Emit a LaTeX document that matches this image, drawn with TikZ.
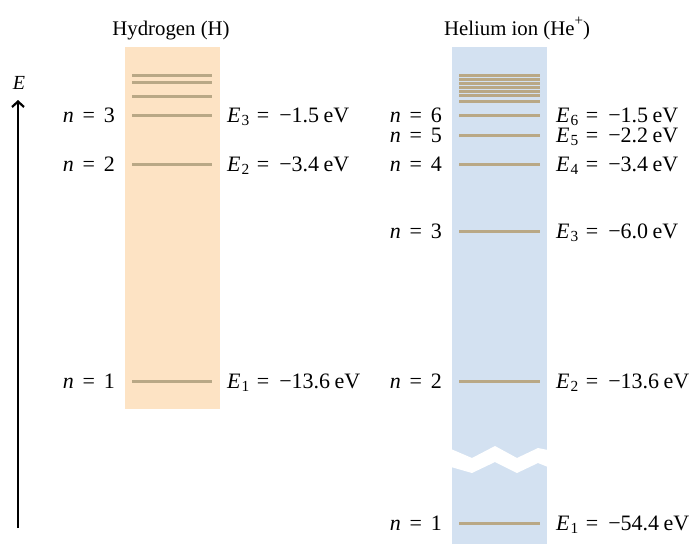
\documentclass[tikz,border=0pt]{standalone}
\usepackage{fontspec}
\setmainfont{Liberation Serif}
\usetikzlibrary{arrows.meta}
\definecolor{hbg}{HTML}{FDE3C4}
\definecolor{hebg}{HTML}{D3E1F1}
\definecolor{lvl}{HTML}{B9A886}
\newcommand{\elv}[2]{\textit{E}\kern.05em\textsubscript{#1}\hspace{.32em}=\hspace{.45em}#2\hspace{.2em}eV}
\newcommand{\nlv}[1]{\textit{n}\hspace{.4em}=\hspace{.4em}#1}
\begin{document}
\begin{tikzpicture}[x=1pt,y=-1pt,
  lev/.style={draw=lvl,line width=3pt},
  txt/.style={font=\fontsize{22}{24}\selectfont,inner sep=0pt},
  ttl/.style={font=\fontsize{20.8}{23}\selectfont,inner sep=0pt,anchor=base},
  nlab/.style={txt,anchor=base east},
  elab/.style={txt,anchor=base west}]
\useasboundingbox (0,0) rectangle (694,544);
% backgrounds
\fill[hbg] (125,47) rectangle (220,409);
\fill[hebg] (452,47) rectangle (547,544);
\fill[white] (451,449) -- (472,458) -- (495,446) -- (517,458) -- (538,448) -- (548,450)
  -- (548,467) -- (538,463) -- (517,473) -- (495,462) -- (472,473) -- (451,467) -- cycle;
% titles
\node[ttl] (th) at (171,35) {Hydrogen (H)};
\node[ttl] (the) at (517,35) {Helium ion (He\raisebox{.45em}{\fontsize{15}{15}\selectfont +})};
% energy axis
\coordinate (ebot) at (18,528);
\coordinate (etop) at (18,100);
\draw[line width=2pt,-{Straight Barb[length=5.5pt,width=12pt,line width=2.2pt]}] (ebot) -- (etop);
\node[txt,font=\fontsize{20}{22}\selectfont,anchor=base] (elabel) at (19,89) {\textit{E}};
% hydrogen levels
\foreach \y in {75,82,96} \draw[lev] (132,\y) -- (212,\y);
\draw[lev] (132,115) -- (212,115) coordinate (h3);
\draw[lev] (132,164) -- (212,164) coordinate (h2);
\draw[lev] (132,381) -- (212,381) coordinate (h1);
\node[nlab] (hn3) at (115,122) {\nlv{3}};
\node[nlab] (hn2) at (115,171) {\nlv{2}};
\node[nlab] (hn1) at (115,388) {\nlv{1}};
\node[elab] (he3) at (227,122) {\elv{3}{−1.5}};
\node[elab] (he2) at (227,171) {\elv{2}{−3.4}};
\node[elab] (he1) at (227,388) {\elv{1}{−13.6}};
% helium levels
\foreach \y in {75,79,83,87,91,95,101,115,135,164,231,381,523} \draw[lev] (459,\y) -- (540,\y);
\node[nlab] (gn6) at (442,122) {\nlv{6}};
\node[nlab] (gn5) at (442,142) {\nlv{5}};
\node[nlab] (gn4) at (442,171) {\nlv{4}};
\node[nlab] (gn3) at (442,238) {\nlv{3}};
\node[nlab] (gn2) at (442,388) {\nlv{2}};
\node[nlab] (gn1) at (442,530) {\nlv{1}};
\node[elab] (ge6) at (556,122) {\elv{6}{−1.5}};
\node[elab] (ge5) at (556,142) {\elv{5}{−2.2}};
\node[elab] (ge4) at (556,171) {\elv{4}{−3.4}};
\node[elab] (ge3) at (556,238) {\elv{3}{−6.0}};
\node[elab] (ge2) at (556,388) {\elv{2}{−13.6}};
\node[elab] (ge1) at (556,530) {\elv{1}{−54.4}};
\end{tikzpicture}
\end{document}
